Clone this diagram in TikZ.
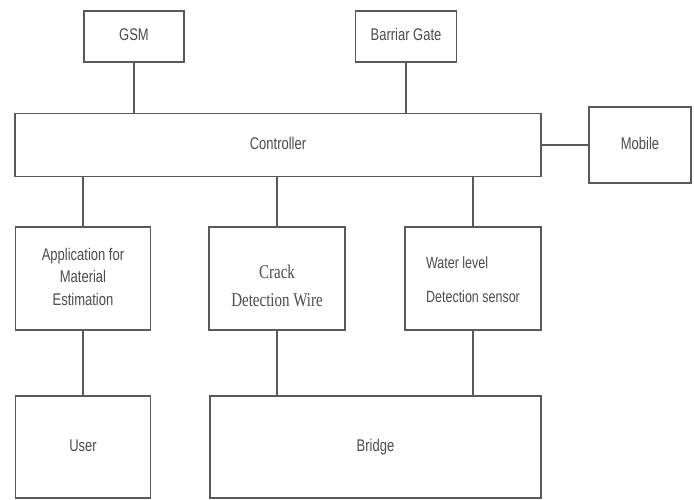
\documentclass[tikz,border=0pt]{standalone}
\usepackage{fontspec}
\newfontfamily\arialf{Liberation Sans}
\newfontfamily\timesf{Liberation Serif}
\usepackage{tikz}
\usetikzlibrary{positioning}
\newcommand{\tall}[2][c]{\scalebox{1}[1.3]{\begin{tabular}{@{}#1@{}}#2\end{tabular}}}

\begin{document}
\begin{tikzpicture}[
      x=1pt, y=-1pt,
      box/.style={draw=black!65, line width=1.6pt, fill=white, inner sep=0pt,
        text=black!70, font=\arialf\fontsize{13}{17}\selectfont, align=center},
      wire/.style={draw=black!65, line width=1.6pt}
    ]
    \useasboundingbox (0,0) rectangle (694,499);

    % Blocchi in alto
    \node[box, minimum width=100pt, minimum height=51pt] (gsm) at (134,36.5) {\tall{GSM}};
    \node[box, minimum width=101pt, minimum height=51pt] (gate) at (406,36.5) {\tall{Barriar Gate}};

    % Controllore e mobile
    \node[box, minimum width=526pt, minimum height=63pt] (ctrl) at (278,145) {\tall{Controller}};
    \node[box, minimum width=102pt, minimum height=76pt] (mob) at (640,145) {\tall{Mobile}};

    % Blocchi centrali
    \node[box, minimum width=135pt, minimum height=103pt] (app) at (83,278.5)
      {\tall{Application for\\Material\\Estimation}};
    \node[box, minimum width=136pt, minimum height=103pt,
      font=\timesf\fontsize{15}{22}\selectfont] (crack) at (277,278.5)
      {\raisebox{-13pt}[0pt][0pt]{\tall{Crack\\Detection Wire}}};
    \node[box, minimum width=136pt, minimum height=103pt,
      font=\arialf\fontsize{12.5}{26}\selectfont] (water) at (473,278.5)
      {\tall[l]{Water level\\Detection sensor}};

    % Blocchi in basso
    \node[box, minimum width=135pt, minimum height=102pt] (user) at (83,447) {\tall{User}};
    \node[box, minimum width=331pt, minimum height=102pt] (bridge) at (375.5,447) {\tall{Bridge}};

    % Collegamenti
    \draw[wire] (gsm.south) -- (gsm.south |- ctrl.north);
    \draw[wire] (gate.south) -- (gate.south |- ctrl.north);
    \draw[wire] (ctrl.east) -- (ctrl.east -| mob.west);
    \foreach \b in {app, crack, water}
      \draw[wire] (ctrl.south -| \b.north) -- (\b.north);
    \draw[wire] (app.south) -- (user.north);
    \draw[wire] (crack.south) -- (crack.south |- bridge.north);
    \draw[wire] (water.south) -- (water.south |- bridge.north);
  \end{tikzpicture}
\end{document}
